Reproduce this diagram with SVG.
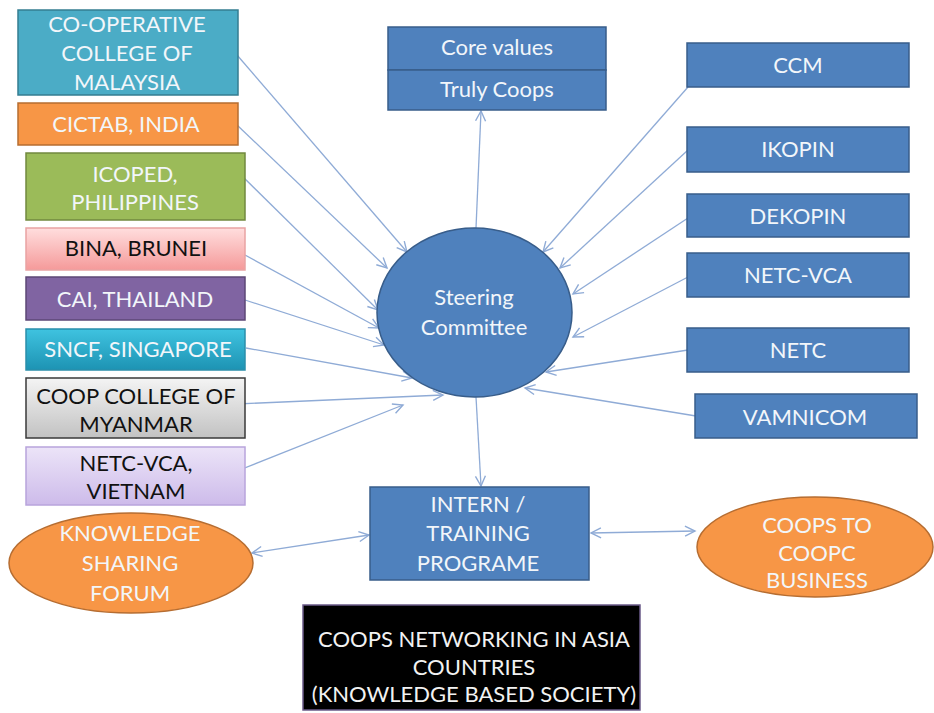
<svg xmlns="http://www.w3.org/2000/svg" width="934" height="713" viewBox="0 0 934 713">
<style>
  .t { font-family: Lato, "Liberation Sans", Arial, sans-serif; font-size: 22px; text-anchor: middle; }
  .lt { fill: #f2f6fa; }
  .dk { fill: #111111; }
  .blue { fill: #4f81bd; stroke: #385d8a; stroke-width: 1.5; }
  .orange { fill: #f79646; stroke: #b66d31; stroke-width: 1.5; }
  .conn line { stroke: #8fabd6; stroke-width: 1.3; fill: none; }
</style>
<defs>
  <marker id="ah" markerUnits="userSpaceOnUse" markerWidth="14" markerHeight="14" viewBox="0 0 14 14" refX="12" refY="7" orient="auto-start-reverse">
    <path d="M2,2 L12,7 L2,12" fill="none" stroke="#8fabd6" stroke-width="1.4"/>
  </marker>
  <linearGradient id="gPink" x1="0" y1="0" x2="0" y2="1">
    <stop offset="0" stop-color="#ffdede"/>
    <stop offset="1" stop-color="#f59a9a"/>
  </linearGradient>
  <linearGradient id="gTeal" x1="0" y1="0" x2="0" y2="1">
    <stop offset="0" stop-color="#3fc3e0"/>
    <stop offset="1" stop-color="#1d93b3"/>
  </linearGradient>
  <linearGradient id="gGray" x1="0" y1="0" x2="0" y2="1">
    <stop offset="0" stop-color="#f4f4f4"/>
    <stop offset="1" stop-color="#c2c2c2"/>
  </linearGradient>
  <linearGradient id="gLav" x1="0" y1="0" x2="0" y2="1">
    <stop offset="0" stop-color="#ece4f8"/>
    <stop offset="1" stop-color="#cdbbea"/>
  </linearGradient>
</defs>
<rect width="934" height="713" fill="#ffffff"/>

<g class="conn">
  <line x1="237" y1="55" x2="407" y2="252" marker-end="url(#ah)"/>
  <line x1="237" y1="125" x2="387" y2="268" marker-end="url(#ah)"/>
  <line x1="237" y1="171" x2="378" y2="310" marker-end="url(#ah)"/>
  <line x1="245" y1="255" x2="379" y2="328" marker-end="url(#ah)"/>
  <line x1="245" y1="300" x2="384" y2="345" marker-end="url(#ah)"/>
  <line x1="246" y1="348" x2="412" y2="378" marker-end="url(#ah)"/>
  <line x1="237" y1="404" x2="443" y2="395" marker-end="url(#ah)"/>
  <line x1="237" y1="471" x2="403" y2="405" marker-end="url(#ah)"/>
  <line x1="688" y1="87" x2="543" y2="252" marker-end="url(#ah)"/>
  <line x1="688" y1="150" x2="560" y2="268" marker-end="url(#ah)"/>
  <line x1="688" y1="218" x2="573" y2="294" marker-end="url(#ah)"/>
  <line x1="688" y1="277" x2="573" y2="337" marker-end="url(#ah)"/>
  <line x1="688" y1="350" x2="546" y2="372" marker-end="url(#ah)"/>
  <line x1="696" y1="416" x2="525" y2="388" marker-end="url(#ah)"/>
  <line x1="476" y1="228" x2="481" y2="111" marker-end="url(#ah)"/>
  <line x1="476" y1="397" x2="481" y2="486" marker-end="url(#ah)"/>
  <line x1="252" y1="553" x2="369" y2="535" marker-start="url(#ah)" marker-end="url(#ah)"/>
  <line x1="591" y1="533" x2="695" y2="531" marker-start="url(#ah)" marker-end="url(#ah)"/>
</g>

<g id="malaysia">
  <rect x="18" y="10" width="220" height="85" fill="#4bacc6" stroke="#357d91" stroke-width="1.5"/>
  <text class="t lt" x="127" y="32">CO-OPERATIVE</text>
  <text class="t lt" x="127" y="61">COLLEGE OF</text>
  <text class="t lt" x="127" y="90">MALAYSIA</text>
</g>
<g id="cictab">
  <rect x="18" y="103" width="220" height="42" class="orange"/>
  <text class="t lt" x="126" y="132">CICTAB, INDIA</text>
</g>
<g id="icoped">
  <rect x="26" y="153" width="219" height="67" fill="#9bbb59" stroke="#71893f" stroke-width="1.5"/>
  <text class="t lt" x="135" y="182">ICOPED,</text>
  <text class="t lt" x="135" y="210">PHILIPPINES</text>
</g>
<g id="bina">
  <rect x="26" y="228" width="219" height="42" fill="url(#gPink)" stroke="#e9a3a3" stroke-width="1.5"/>
  <text class="t dk" x="136" y="256">BINA, BRUNEI</text>
</g>
<g id="cai">
  <rect x="26" y="277" width="219" height="43" fill="#8064a2" stroke="#5c4776" stroke-width="1.5"/>
  <text class="t lt" x="135" y="307">CAI, THAILAND</text>
</g>
<g id="sncf">
  <rect x="26" y="329" width="219" height="41" fill="url(#gTeal)" stroke="#2a8fab" stroke-width="1.5"/>
  <text class="t lt" x="138" y="357">SNCF, SINGAPORE</text>
</g>
<g id="myanmar">
  <rect x="26" y="378" width="219" height="60" fill="url(#gGray)" stroke="#3a3a3a" stroke-width="1.5"/>
  <text class="t dk" x="136" y="404">COOP COLLEGE OF</text>
  <text class="t dk" x="136" y="432">MYANMAR</text>
</g>
<g id="vietnam">
  <rect x="26" y="447" width="219" height="58" fill="url(#gLav)" stroke="#b8a4dc" stroke-width="1.5"/>
  <text class="t dk" x="136" y="471">NETC-VCA,</text>
  <text class="t dk" x="136" y="499">VIETNAM</text>
</g>

<g id="corevalues">
  <rect x="388" y="27" width="218" height="43" class="blue"/>
  <text class="t lt" x="497" y="55">Core values</text>
</g>
<g id="trulycoops">
  <rect x="388" y="70" width="218" height="40" class="blue"/>
  <text class="t lt" x="497" y="97">Truly Coops</text>
</g>

<g id="ccm">
  <rect x="687" y="43" width="222" height="44" class="blue"/>
  <text class="t lt" x="798" y="73">CCM</text>
</g>
<g id="ikopin">
  <rect x="687" y="127" width="222" height="45" class="blue"/>
  <text class="t lt" x="798" y="157">IKOPIN</text>
</g>
<g id="dekopin">
  <rect x="687" y="194" width="222" height="43" class="blue"/>
  <text class="t lt" x="798" y="224">DEKOPIN</text>
</g>
<g id="netcvca">
  <rect x="687" y="253" width="222" height="44" class="blue"/>
  <text class="t lt" x="798" y="283">NETC-VCA</text>
</g>
<g id="netc">
  <rect x="687" y="328" width="222" height="44" class="blue"/>
  <text class="t lt" x="798" y="358">NETC</text>
</g>
<g id="vamnicom">
  <rect x="695" y="394" width="222" height="44" class="blue"/>
  <text class="t lt" x="805" y="425">VAMNICOM</text>
</g>

<g id="steering">
  <ellipse cx="474.5" cy="312.5" rx="97.5" ry="84.5" class="blue"/>
  <text class="t lt" x="474" y="305">Steering</text>
  <text class="t lt" x="474" y="335">Committee</text>
</g>

<g id="intern">
  <rect x="370" y="487" width="219" height="93" class="blue"/>
  <text class="t lt" x="478" y="512">INTERN /</text>
  <text class="t lt" x="478" y="541">TRAINING</text>
  <text class="t lt" x="478" y="571">PROGRAME</text>
</g>

<g id="knowledge">
  <ellipse cx="131" cy="563" rx="122" ry="50" class="orange"/>
  <text class="t lt" x="130" y="541">KNOWLEDGE</text>
  <text class="t lt" x="130" y="571">SHARING</text>
  <text class="t lt" x="130" y="601">FORUM</text>
</g>

<g id="coopsbusiness">
  <ellipse cx="815" cy="547" rx="118" ry="50" class="orange"/>
  <text class="t lt" x="817" y="533">COOPS TO</text>
  <text class="t lt" x="817" y="561">COOPC</text>
  <text class="t lt" x="817" y="588">BUSINESS</text>
</g>

<g id="title">
  <rect x="303" y="605" width="337" height="105" fill="#000000" stroke="#6a5a88" stroke-width="1.5"/>
  <text class="t" fill="#f2f2f2" x="474" y="647" font-size="21">COOPS NETWORKING IN ASIA</text>
  <text class="t" fill="#f2f2f2" x="474" y="675" font-size="21">COUNTRIES</text>
  <text class="t" fill="#f2f2f2" x="474" y="702" font-size="21">(KNOWLEDGE BASED SOCIETY)</text>
</g>
</svg>
